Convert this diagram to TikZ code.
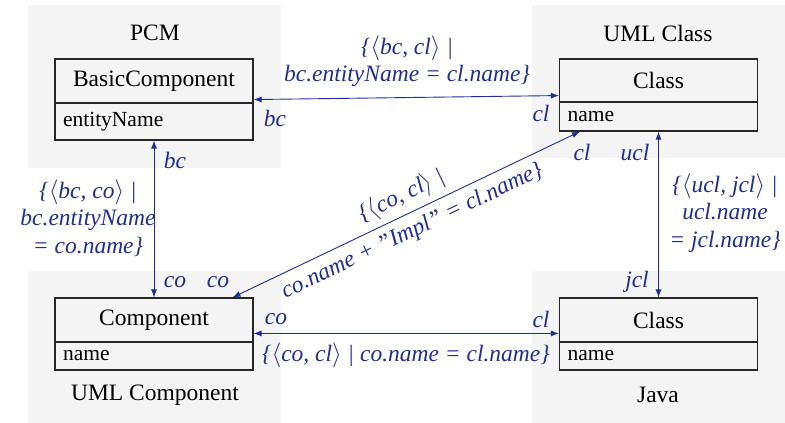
\documentclass[tikz,border=0pt]{standalone}
\usepackage{fontspec}
\setmainfont{Liberation Serif}
\usetikzlibrary{arrows.meta,calc}
\definecolor{panelgray}{RGB}{244,244,244}
\definecolor{relblue}{RGB}{30,45,155}
\newcommand{\hdrfont}{\fontsize{23.5}{27}\selectfont}
\newcommand{\attrfont}{\fontsize{21.5}{25}\selectfont}
\newcommand{\lblfont}{\fontsize{23.5}{27.5}\selectfont\itshape}
\newcommand{\myang}[1]{$\langle$#1$\rangle$}
\begin{document}
\begin{tikzpicture}[x=1pt,y=-1pt,
  panel/.style={fill=panelgray},
  hdr/.style={draw=black!85, line width=1.1pt, minimum width=198pt, inner sep=0pt, font=\hdrfont},
  attr/.style={draw=black!85, line width=1.1pt, minimum width=198pt, inner sep=0pt, text width=182pt, align=left, font=\attrfont},
  ttl/.style={font=\hdrfont},
  lbl/.style={text=relblue, font=\lblfont, inner sep=1pt, align=center},
  rel/.style={relblue, line width=0.9pt, {Latex[length=8pt,width=6pt]}-{Latex[length=8pt,width=6pt]}},
]
\useasboundingbox (0,0) rectangle (785,423);
% panels
\fill[panel] (28,5) rectangle (281,168);
\fill[panel] (532,5) rectangle (785,158);
\fill[panel] (28,271) rectangle (281,423);
\fill[panel] (532,271) rectangle (785,423);
% titles
\node[ttl] (tPCM) at (155,33) {PCM};
\node[ttl] (tUC) at (658,33) {UML Class};
\node[ttl] (tUCo) at (155,395) {UML Component};
\node[ttl] (tJ) at (658,395) {Java};
% boxes
\node[hdr, minimum height=44pt] (BCh) at (154,81) {BasicComponent};
\node[attr, minimum height=37pt] (BCa) at (154,121.5) {entityName};
\node[hdr, minimum height=43pt] (UCh) at (658.5,80.5) {Class};
\node[attr, minimum height=29pt] (UCa) at (658.5,116.5) {name};
\node[hdr, minimum height=44pt] (Coh) at (154,320) {Component};
\node[attr, minimum height=28pt] (Coa) at (154,356) {name};
\node[hdr, minimum height=44pt] (JCh) at (658.5,320) {Class};
\node[attr, minimum height=28pt] (JCa) at (658.5,356) {name};
% relation 1: BasicComponent - UML Class
\draw[rel] ([yshift=4pt]BCh.south east) -- ([yshift=7pt]UCh.south west);
\node[lbl] (r1) at (407,61) {\{\myang{bc, cl} |\\ bc.entityName = cl.name\}};
\node[lbl] (r1a) at (275,118) {bc};
\node[lbl] (r1b) at (541,113) {cl};
% relation 2: BasicComponent - Component
\draw[rel] (BCa.south) -- (Coh.north);
\node[lbl] (r2) at (88,218) {\{\myang{bc, co} |\\ bc.entityName\\ = co.name\}};
\node[lbl] (r2a) at (175,160) {bc};
\node[lbl] (r2b) at (175,282) {co};
% relation 3: Component - UML Class
\draw[rel] ([xshift=-21pt]Coh.north east) -- ([xshift=21pt]UCa.south west)
  node[lbl, pos=0.51, sloped, above=5pt] (r3) {\{\myang{co, cl} |}
  node[lbl, pos=0.495, sloped, below=6pt] (r3b) {co.name + ”Impl” = cl.name\}};
\node[lbl] (r3c) at (218,282) {co};
\node[lbl] (r3d) at (582,152) {cl};
% relation 4: UML Class - Java Class
\draw[rel] (UCa.south) -- (JCh.north);
\node[lbl] (r4) at (725,213) {\{\myang{ucl, jcl} |\\ ucl.name\\ = jcl.name\}};
\node[lbl] (r4a) at (635,152) {ucl};
\node[lbl] (r4b) at (637,282) {jcl};
% relation 5: Component - Java Class
\draw[rel] ([yshift=8pt]Coa.north east) -- ([yshift=8pt]JCa.north west);
\node[lbl] (r5) at (406,355) {\{\myang{co, cl} | co.name = cl.name\}};
\node[lbl] (r5a) at (276,319) {co};
\node[lbl] (r5b) at (541,319) {cl};
\end{tikzpicture}
\end{document}
